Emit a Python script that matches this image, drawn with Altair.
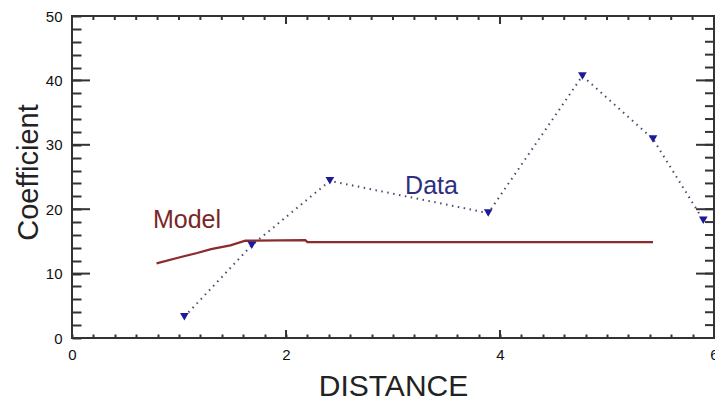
import altair as alt
import pandas as pd

# Data series
data_x = [1.05, 1.68, 2.41, 3.89, 4.77, 5.43, 5.90]
data_y = [3.3, 14.4, 24.4, 19.4, 40.7, 30.9, 18.3]

model_x = [0.79, 1.0, 1.17, 1.3, 1.48, 1.62, 2.18, 2.2, 5.43]
model_y = [11.6, 12.5, 13.2, 13.8, 14.4, 15.1, 15.2, 14.9, 14.9]

label_text = ["Model", "Data"]
label_x = [1.075, 3.36]
label_y = [18.3, 23.6]

# Tick values
x_major = [0, 2, 4, 6]
y_major = [0, 10, 20, 30, 40, 50]
x_minor = [round(i * 0.2, 1) for i in range(31)]
y_minor = [i * 2 for i in range(26)]

W, H = 642, 322
FONT = "Liberation Sans"
AX = "#333333"

df_data = pd.DataFrame({"x": data_x, "y": data_y})
df_model = pd.DataFrame({"x": model_x, "y": model_y})
df_lab = pd.DataFrame({"t": label_text, "x": label_x, "y": label_y})

xs = alt.Scale(domain=[0, 6], nice=False, zero=False)
ys = alt.Scale(domain=[0, 50], nice=False, zero=False)

# Axes: inward minor ticks via negative tick size (given as expression)
X_AXIS = alt.Axis(orient="bottom", values=x_minor, domain=False, grid=False,
                  ticks=True, tickSize={"expr": "-4"}, tickColor=AX, tickWidth=2,
                  labelExpr="abs(datum.value/2 - round(datum.value/2)) < 0.001 ? format(datum.value, 'd') : ''",
                  labelOverlap=False, labelBound=False,
                  labelFont=FONT, labelFontSize=15, labelColor="#111", labelPadding=13,
                  labelFlush=False,
                  titleFont=FONT, titleFontSize=30, titleFontWeight="normal",
                  titleColor="#222", titleBaseline="middle", titleX=W / 2, titleY=48)
Y_AXIS = alt.Axis(orient="left", values=y_minor, domain=False, grid=False,
                  ticks=True, tickSize={"expr": "-9"}, tickColor=AX, tickWidth=2,
                  labelExpr="datum.value % 10 === 0 ? datum.label : ''",
                  labelOverlap=False, labelBound=False,
                  labelFont=FONT, labelFontSize=15, labelColor="#111", labelPadding=19,
                  labelFlush=False,
                  titleFont=FONT, titleFontSize=29, titleFontWeight="normal",
                  titleColor="#222", titleBaseline="middle", titleAlign="center",
                  titleAngle=270, titleX=-44, titleY=156)


def X(field):
    return alt.X(field, scale=xs, title="DISTANCE", axis=X_AXIS)


def Y(field):
    return alt.Y(field, scale=ys, title="Coefficient", axis=Y_AXIS)


model = alt.Chart(df_model).mark_line(color="#8c2b2b", strokeWidth=2.3).encode(
    x=X("x:Q"), y=Y("y:Q"),
)

data_line = alt.Chart(df_data).mark_line(color="#4a4a70", strokeWidth=2, strokeDash=[1.5, 4.5]).encode(
    x=X("x:Q"), y=Y("y:Q"),
)

points = alt.Chart(df_data).mark_point(shape="triangle-down", filled=True, size=75,
                                       color="#1c1a9a", opacity=1).encode(
    x=X("x:Q"), y=Y("y:Q"),
)

labels = alt.Chart(df_lab).mark_text(font=FONT, fontSize=25).encode(
    x=X("x:Q"), y=Y("y:Q"),
    text="t:N",
    color=alt.Color("t:N", scale=alt.Scale(domain=label_text, range=["#7b2626", "#2e2e7e"]),
                    legend=None),
)


def xrules(values, size, sides):
    d = pd.DataFrame({"tx": values})
    base = alt.Chart(d).mark_rule(color=AX, strokeWidth=2)
    out = []
    if "bottom" in sides:
        out.append(base.encode(x=X("tx:Q"), y=alt.value(H), y2=alt.value(H - size)))
    if "top" in sides:
        out.append(base.encode(x=X("tx:Q"), y=alt.value(0), y2=alt.value(size)))
    return out


def yrules(values, size, sides):
    d = pd.DataFrame({"ty": values})
    base = alt.Chart(d).mark_rule(color=AX, strokeWidth=2)
    out = []
    if "left" in sides:
        out.append(base.encode(y=Y("ty:Q"), x=alt.value(0), x2=alt.value(size)))
    if "right" in sides:
        out.append(base.encode(y=Y("ty:Q"), x=alt.value(W), x2=alt.value(W - size)))
    return out


rule_layers = (xrules(x_minor, 4, ["top"]) + xrules(x_major, 8, ["top", "bottom"])
               + yrules(y_minor, 9, ["right"]) + yrules(y_major, 18, ["left", "right"]))

chart = alt.layer(model, data_line, points, labels, *rule_layers).properties(
    width=W, height=H,
    autosize=alt.AutoSizeParams(type="none"),
    padding={"left": 72, "top": 16, "right": 1, "bottom": 66},
    background="white",
).configure_view(stroke=AX, strokeWidth=2)

chart.save("out.html", embed_options={"renderer": "svg", "actions": False})
